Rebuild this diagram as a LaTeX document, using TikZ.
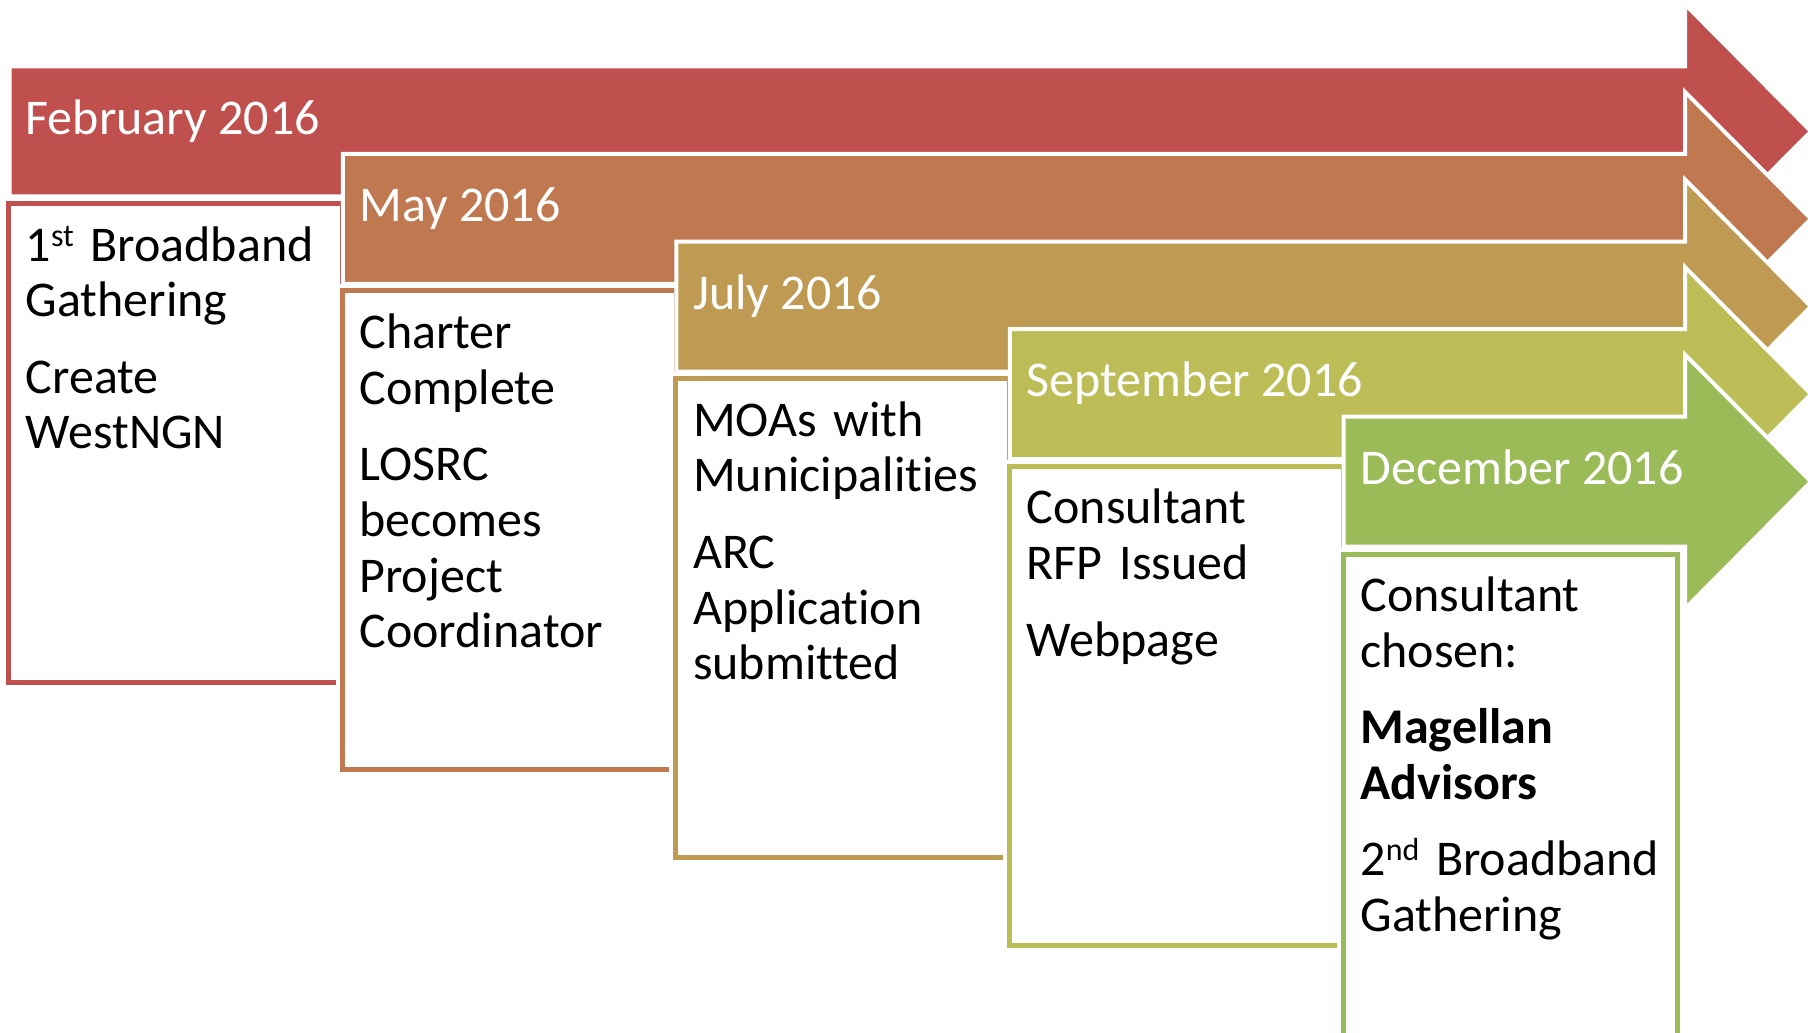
\documentclass[tikz,border=0pt]{standalone}
\usepackage{fontspec}
\setmainfont{Carlito}[Ligatures={NoCommon}]
\definecolor{cFeb}{HTML}{C0504D}
\definecolor{cMay}{HTML}{BF7850}
\definecolor{cJul}{HTML}{BE9A52}
\definecolor{cSep}{HTML}{BDBD58}
\definecolor{cDec}{HTML}{9BBB59}
\newcommand\mysup[1]{\raisebox{15pt}{\fontsize{32}{32}\selectfont #1}}
\tikzset{
  arrowshape/.style={fill=#1, draw=white, line width=4pt, line join=miter},
  boxshape/.style={rectangle, draw=#1, line width=5pt, fill=white,
    preaction={draw=white, line width=13pt},
    minimum width=334pt, minimum height=479pt, anchor=north west,
    inner sep=0pt, outer sep=0pt},
  header/.style={anchor=base west, text=white, inner sep=0pt,
    font=\fontsize{50}{55}\selectfont},
  body/.style={anchor=base west, text width=318pt, align=left, inner sep=0pt,
    font=\fontsize{50}{55.6}\selectfont},
}
\begin{document}
\begin{tikzpicture}[x=1pt,y=-1pt]
\useasboundingbox (0,0) rectangle (1820,1033);
% February (centre 131.3)
\draw[arrowshape=cFeb] (9.5,66.3) -- (1685,66.3) -- (1685,4.3) -- (1811,131.3) -- (1685,258.3) -- (1685,196.3) -- (9.5,196.3) -- cycle;
\node[header] (hFeb) at (25.5,134) {February 2016};
\node[boxshape=cFeb] (bFeb) at (8.5,203.3) {};
\node[body] (tFeb) at (25.5,261) {1\mysup{st} Broadband\\Gathering\\[21pt]Create\\WestNGN};
% May (centre 218.9)
\draw[arrowshape=cMay] (342.9,153.9) -- (1685,153.9) -- (1685,91.9) -- (1811,218.9) -- (1685,345.9) -- (1685,283.9) -- (342.9,283.9) -- cycle;
\node[header] (hMay) at (359.2,221.6) {May 2016};
\node[boxshape=cMay] (bMay) at (342.2,290.9) {};
\node[body] (tMay) at (359.2,348.6) {Charter\\Complete\\[21pt]LOSRC\\becomes\\Project\\Coordinator};
% July (centre 306.5)
\draw[arrowshape=cJul] (676.3,241.5) -- (1685,241.5) -- (1685,179.5) -- (1811,306.5) -- (1685,433.5) -- (1685,371.5) -- (676.3,371.5) -- cycle;
\node[header] (hJul) at (692.9,309.2) {July 2016};
\node[boxshape=cJul] (bJul) at (675.8,378.5) {};
\node[body] (tJul) at (692.9,436.2) {MOAs with\\Municipalities\\[21pt]ARC\\Application\\submitted};
% September (centre 394.1)
\draw[arrowshape=cSep] (1009.9,329.1) -- (1685,329.1) -- (1685,267.1) -- (1811,394.1) -- (1685,521.1) -- (1685,459.1) -- (1009.9,459.1) -- cycle;
\node[header] (hSep) at (1026.6,396.8) {September 2016};
\node[boxshape=cSep] (bSep) at (1009.4,466.1) {};
\node[body] (tSep) at (1026.6,523.8) {Consultant\\RFP Issued\\[21pt]Webpage};
% December (centre 481.7)
\draw[arrowshape=cDec] (1343.5,416.7) -- (1685,416.7) -- (1685,354.7) -- (1811,481.7) -- (1685,608.7) -- (1685,546.7) -- (1343.5,546.7) -- cycle;
\node[header] (hDec) at (1360.3,484.4) {December 2016};
\node[boxshape=cDec, minimum height=500pt] (bDec) at (1343,554.2) {};
\node[body] (tDec) at (1360.3,611.4) {Consultant\\chosen:\\[21pt]\textbf{Magellan}\\\textbf{Advisors}\\[21pt]2\mysup{nd} Broadband\\Gathering};
\end{tikzpicture}
\end{document}
